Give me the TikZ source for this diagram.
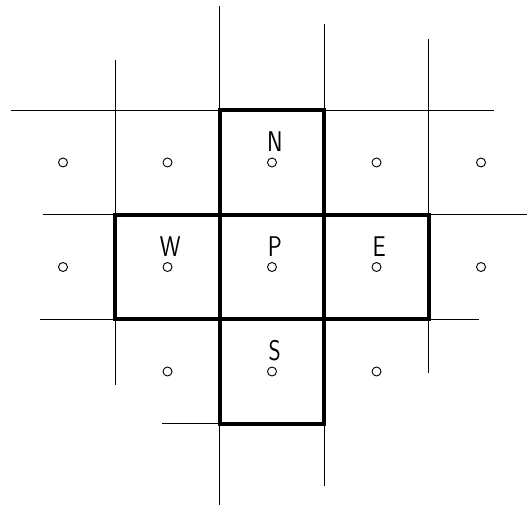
\documentclass[tikz,border=0pt]{standalone}
\usepackage{tikz}
\usetikzlibrary{positioning}

\newcommand{\cellname}[1]{\scalebox{0.82}[1]{#1}}

\begin{document}
\begin{tikzpicture}[
    x=2cm, y=2cm,
    grid line/.style={line width=0.5pt},
    cell box/.style={line width=2.4pt},
    point/.style={circle, draw, line width=0.5pt, minimum size=4.9pt, inner sep=0pt},
    letter/.style={font=\sffamily\fontsize{15.5}{18}\selectfont, inner sep=0pt, xshift=1.5pt}
]
    \useasboundingbox (-2.603,-2.297) rectangle (2.440,2.555);

    % thin grid lines
    \draw[grid line] (-0.5,2.50) -- (-0.5,-2.28);
    \draw[grid line] (0.5,2.33) -- (0.5,-2.10);
    \draw[grid line] (-1.5,1.98) -- (-1.5,-1.13);
    \draw[grid line] (1.5,2.18) -- (1.5,-1.01);
    \draw[grid line] (-2.50,1.5) -- (2.12,1.5);
    \draw[grid line] (-2.19,0.5) -- (2.44,0.5);
    \draw[grid line] (-2.22,-0.5) -- (1.98,-0.5);
    \draw[grid line] (-1.05,-1.5) -- (0.5,-1.5);

    % the five cells
    \draw[cell box] (-0.5,-1.5) rectangle (0.5,1.5);
    \draw[cell box] (-1.5,-0.5) rectangle (1.5,0.5);

    % cell centres
    \node[point] (P) at (0,0) {};
    \node[point] (N) at (0,1) {};
    \node[point] (S) at (0,-1) {};
    \node[point] (W) at (-1,0) {};
    \node[point] (E) at (1,0) {};
    \foreach \x/\y [count=\k] in {-2/1,-1/1,1/1,2/1,-2/0,2/0,-1/-1,1/-1}
        \node[point] (c\k) at (\x,\y) {};

    % labels
    \node[letter, above=3pt of N] (lN) {\cellname{N}};
    \node[letter, above=3pt of W] (lW) {\cellname{W}};
    \node[letter, above=3pt of P] (lP) {\cellname{P}};
    \node[letter, above=3pt of E] (lE) {\cellname{E}};
    \node[letter, above=3pt of S] (lS) {\cellname{S}};
\end{tikzpicture}
\end{document}
